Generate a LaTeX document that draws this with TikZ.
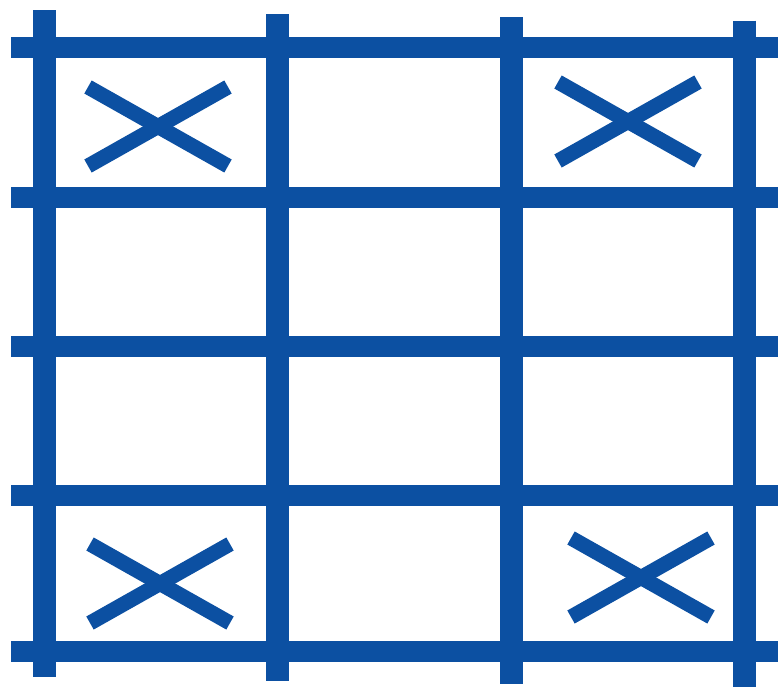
\documentclass[tikz,border=0pt]{standalone}
\definecolor{gridblue}{RGB}{12,80,162}
\begin{document}
\begin{tikzpicture}[x=1pt, y=-1pt, line cap=butt]
\useasboundingbox (0,0) rectangle (778,686);
% Horizontal bars
\foreach \y in {47.8,197.2,346.8,495.8,651}
  \draw[gridblue, line width=21pt] (11,\y) -- (790,\y);
% Vertical bars
\foreach \x/\t in {44.3/10, 277.7/14.3, 511/17.3, 744.8/20.7}
  \draw[gridblue, line width=23pt] (\x,\t) -- (\x,\t+667);
% Crosses
\foreach \a/\b in {88/87, 558/82, 90/544, 571/538}{
  \draw[gridblue, line width=15pt] (\a,\b) -- (\a+140,\b+79);
  \draw[gridblue, line width=15pt] (\a,\b+79) -- (\a+140,\b);
}
\end{tikzpicture}
\end{document}
